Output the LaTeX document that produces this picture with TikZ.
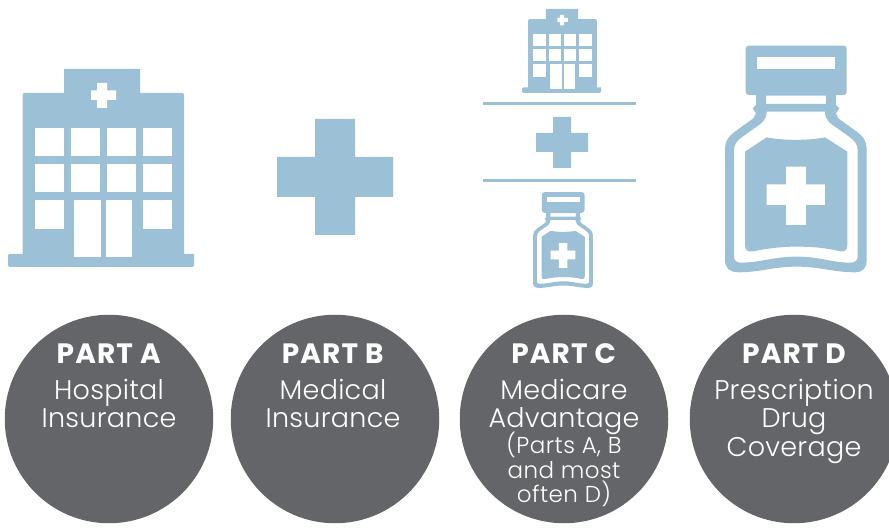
\documentclass[tikz,border=0pt]{standalone}
\usepackage{fontspec}
\setmainfont{Poppins}
\newfontfamily\lightface{Poppins Light}
\definecolor{iconblue}{HTML}{9CC1D7}
\definecolor{discgrey}{HTML}{646568}
\newcommand{\hospitalicon}[1]{%
\begin{scope}[#1]
\fill[iconblue] (64,69) -- (140,69) -- (140,93) -- (181,93) [rounded corners=1.5pt] -- (184,93) [sharp corners] -- (184,254) -- (194,254) [rounded corners=1.5pt] -- (194,267) -- (8,267) -- (8,254) [sharp corners] -- (22.5,254) [rounded corners=1.5pt] -- (22.5,93) [sharp corners] -- (64,93) -- cycle;
\foreach \xa in {35,71,107,143} \foreach \ya in {128,164}
  \fill[white] (\xa,\ya) rectangle ++(29,28.5);
\foreach \xa in {35,143}
  \fill[white] (\xa,200) rectangle ++(29,29);
\fill[white] (74,200) rectangle (101,257.5);
\fill[white] (106,200) rectangle (132,257.5);
\fill[white] (97,83) -- (107,83) -- (107,90.5) -- (116,90.5) -- (116,100) -- (107,100) -- (107,108) -- (97,108) -- (97,100) -- (91,100) -- (91,90.5) -- (97,90.5) -- cycle;
\end{scope}}
\newcommand{\bottleicon}[1]{%
\begin{scope}[#1]
\fill[iconblue, rounded corners=3pt] (107,47) -- (410,47) -- (410,195) -- (107,195) -- cycle;
\fill[iconblue, even odd rule]
 (138,190) -- (138,225) -- (128,235) -- (138,250) -- (130,265) -- (72,307) .. controls (55,320) and (45,335) .. (45,355) -- (45,690) .. controls (45,715) and (60,727) .. (85,727) .. controls (150,727) and (190,710) .. (260,710) .. controls (330,710) and (370,727) .. (435,727) .. controls (458,727) and (470,715) .. (470,690) -- (470,355) .. controls (470,335) and (460,320) .. (443,307) -- (385,265) -- (378,250) -- (388,235) -- (378,225) -- (378,190) -- cycle
 (168,197) -- (348,197) -- (348,222) -- (168,222) -- cycle
 (170,245) -- (345,245) .. controls (345,270) and (360,280) .. (385,297) -- (420,322) .. controls (435,333) and (443,345) .. (443,360) -- (443,680) .. controls (443,692) and (435,698) .. (420,698) .. controls (365,698) and (330,680) .. (260,680) .. controls (190,680) and (150,698) .. (95,698) .. controls (80,698) and (72,692) .. (72,680) -- (72,360) .. controls (72,345) and (80,333) .. (95,322) -- (130,297) .. controls (155,280) and (170,270) .. (170,245) -- cycle;
\fill[iconblue] (105,365) -- (170,322) .. controls (215,332) and (300,332) .. (345,322) -- (412,365) -- (412,645) .. controls (412,660) and (405,666) .. (390,664) .. controls (340,652) and (300,650) .. (258,650) .. controls (215,650) and (175,655) .. (130,664) .. controls (112,667) and (105,660) .. (105,645) -- cycle;
\fill[white] (142,82) rectangle (375,116);
\fill[white] (228,410) -- (288,410) -- (288,463) -- (345,463) -- (345,525) -- (288,525) -- (288,585) -- (228,585) -- (228,525) -- (170,525) -- (170,463) -- (228,463) -- cycle;
\end{scope}}
\tikzset{
  disc/.style={circle, fill=discgrey, draw=none, inner sep=0pt, minimum size=208.5pt},
  rule/.style={draw=iconblue, line width=3pt},
  plusmark/.style={fill=iconblue},
  head/.style={text=white, font=\fontsize{28}{28}\selectfont\bfseries\addfontfeature{LetterSpace=4}, inner sep=0pt, anchor=base},
  body/.style={text=white, font=\fontsize{27}{28.3}\selectfont\lightface\addfontfeature{LetterSpace=1}, align=center, inner sep=0pt, anchor=north},
  small/.style={text=white, font=\fontsize{23}{24.5}\selectfont\lightface\addfontfeature{LetterSpace=2}, align=center, inner sep=0pt, anchor=north}
}
\begin{document}
\begin{tikzpicture}[x=1pt,y=-1pt]
\useasboundingbox (0,0) rectangle (889,529);
\fill[white] (0,0) rectangle (889,529);
\hospitalicon{}
\hospitalicon{shift={(518.6,-20.5)},scale=0.425}
\bottleicon{shift={(710,30)},scale=0.3333}
\bottleicon{shift={(526.7,185.4)},scale=0.141}
\fill[plusmark] (315,119) -- (355,119) -- (355,157) -- (393,157) -- (393,197) -- (355,197) -- (355,235) -- (315,235) -- (315,197) -- (277,197) -- (277,157) -- (315,157) -- cycle;
\fill[plusmark] (553,117) -- (571,117) -- (571,133) -- (588,133) -- (588,152) -- (571,152) -- (571,168) -- (553,168) -- (553,152) -- (536,152) -- (536,133) -- (553,133) -- cycle;
\coordinate (ruleAw) at (483,104);
\coordinate (ruleAe) at (636,104);
\coordinate (ruleBw) at (483,180.5);
\coordinate (ruleBe) at (636,180.5);
\draw[rule] (ruleAw) -- (ruleAe);
\draw[rule] (ruleBw) -- (ruleBe);
\node[disc] (discA) at (109,419) {};
\node[disc] (discB) at (335,419) {};
\node[disc] (discC) at (564,419) {};
\node[disc] (discD) at (794,419) {};
\node[head] (headA) at (108.7,363) {PART A};
\node[body] (bodyA) at (109,379) {Hospital\\Insurance};
\node[head] (headB) at (332.7,363) {PART B};
\node[body] (bodyB) at (333,379) {Medical\\Insurance};
\node[head] (headC) at (563.7,363) {PART C};
\node[body] (bodyC) at (564,379) {Medicare\\Advantage};
\node[small] (smallC) at (564,432) {(Parts A, B\\and most\\often D)};
\node[head] (headD) at (794,363) {PART D};
\node[body] (bodyD) at (794,379) {Prescription\\Drug\\Coverage};
\end{tikzpicture}
\end{document}
